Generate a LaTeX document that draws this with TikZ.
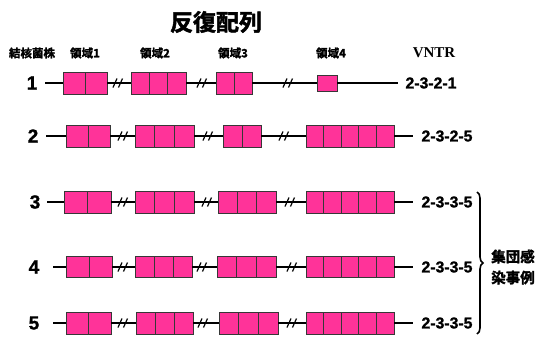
\documentclass[tikz,border=0pt]{standalone}
\usepackage{fontspec}
\setmainfont{Liberation Sans}[BoldFeatures={FakeBold=1.2}]
\newfontfamily\jp{Noto Sans CJK JP}[BoldFont={Noto Sans CJK JP Bold}, BoldFeatures={FakeBold=2}]
\newfontfamily\serifb{Liberation Serif}
\usetikzlibrary{decorations.pathreplacing}
\definecolor{boxpink}{RGB}{255,51,153}
\definecolor{boxedge}{RGB}{55,55,55}
\tikzset{
  cell/.style={draw=boxedge, fill=boxpink, line width=1pt, inner sep=0pt, outer sep=0pt},
  backbone/.style={line width=2pt, black},
  brk/.style={line width=1.2pt, black},
  rownum/.style={font=\fontsize{19}{19}\selectfont\bfseries, anchor=center},
  vntr/.style={font=\fontsize{15.8}{15.8}\selectfont\bfseries, anchor=center},
  head/.style={font=\jp\bfseries\fontsize{11.5}{11.5}\selectfont, anchor=center},
}
% name, x1, x2, ycenter, height, ncells
\newcommand\segm[6]{%
  \pgfmathsetmacro\cw{(#3-#2)/#6}%
  \foreach \i in {1,...,#6}{%
    \node[cell, minimum width=\cw pt, minimum height=#5pt] (#1-\i) at ({#2+(\i-0.5)*\cw}, #4) {};
  }%
}
\newcommand\brkmark[2]{%
  \draw[brk] (#1-5,#2+4.5) -- (#1-1,#2-4.5);
  \draw[brk] (#1+0.5,#2+4.5) -- (#1+4.5,#2-4.5);
}
\begin{document}
\begin{tikzpicture}[x=1pt,y=-1pt]
\useasboundingbox (0,0) rectangle (541,343);
% title and headers
\node[font=\jp\bfseries\fontsize{23}{23}\selectfont] (title) at (216,22) {反復配列};
\node[head] (hs) at (32,53) {結核菌株};
\node[head] (h1) at (85,53) {領域1};
\node[head] (h2) at (155,53) {領域2};
\node[head] (h3) at (233,53) {領域3};
\node[head] (h4) at (331,53) {領域4};
\node[font=\serifb\bfseries\fontsize{15}{15}\selectfont] (hv) at (434,53) {VNTR};

% Row 1
\node[rownum] (n1) at (32,83) {1};
\coordinate (s1) at (45,83);
\coordinate (e1) at (398,83);
\segm{r1a}{63}{107}{83}{22}{2}
\segm{r1b}{131}{186}{83}{22}{3}
\segm{r1c}{216}{252}{83}{22}{2}
\segm{r1d}{317}{337}{83}{16}{1}
\draw[backbone] (s1) -- (r1a-1.west) (r1a-2.east) -- (r1b-1.west)
  (r1b-3.east) -- (r1c-1.west) (r1c-2.east) -- (r1d-1.west) (r1d-1.east) -- (e1);
\brkmark{118}{83}\brkmark{202}{83}\brkmark{288}{83}
\node[vntr] (v1) at (431,83) {2-3-2-1};

% Row 2
\node[rownum] (n2) at (33,136) {2};
\coordinate (s2) at (46,136);
\coordinate (e2) at (413,136);
\segm{r2a}{66}{110}{136}{22}{2}
\segm{r2b}{135}{194}{136}{22}{3}
\segm{r2c}{223}{261}{136}{22}{2}
\segm{r2d}{306}{394}{136}{22}{5}
\draw[backbone] (s2) -- (r2a-1.west) (r2a-2.east) -- (r2b-1.west)
  (r2b-3.east) -- (r2c-1.west) (r2c-2.east) -- (r2d-1.west) (r2d-5.east) -- (e2);
\brkmark{123}{136}\brkmark{208}{136}\brkmark{284}{136}
\node[vntr] (v2) at (447,136) {2-3-2-5};

% Row 3
\node[rownum] (n3) at (35,202) {3};
\coordinate (s3) at (47,202);
\coordinate (e3) at (413,202);
\segm{r3a}{64}{111}{202}{22}{2}
\segm{r3b}{135}{194}{202}{22}{3}
\segm{r3c}{218}{276}{202}{22}{3}
\segm{r3d}{306}{394}{202}{22}{5}
\draw[backbone] (s3) -- (r3a-1.west) (r3a-2.east) -- (r3b-1.west)
  (r3b-3.east) -- (r3c-1.west) (r3c-3.east) -- (r3d-1.west) (r3d-5.east) -- (e3);
\brkmark{123}{202}\brkmark{207}{202}\brkmark{290}{202}
\node[vntr] (v3) at (447,202) {2-3-3-5};

% Row 4
\node[rownum] (n4) at (34,267) {4};
\coordinate (s4) at (53,267);
\coordinate (e4) at (413,267);
\segm{r4a}{66}{112}{267}{21}{2}
\segm{r4b}{135}{192}{267}{21}{3}
\segm{r4c}{217}{276}{267}{21}{3}
\segm{r4d}{306}{394}{267}{21}{5}
\draw[backbone] (s4) -- (r4a-1.west) (r4a-2.east) -- (r4b-1.west)
  (r4b-3.east) -- (r4c-1.west) (r4c-3.east) -- (r4d-1.west) (r4d-5.east) -- (e4);
\brkmark{123}{267}\brkmark{202}{267}\brkmark{292}{267}
\node[vntr] (v4) at (447,267) {2-3-3-5};

% Row 5
\node[rownum] (n5) at (34,323) {5};
\coordinate (s5) at (53,323);
\coordinate (e5) at (413,323);
\segm{r5a}{66}{111}{323}{22}{2}
\segm{r5b}{136}{193}{323}{22}{3}
\segm{r5c}{219}{278}{323}{22}{3}
\segm{r5d}{306}{394}{323}{22}{5}
\draw[backbone] (s5) -- (r5a-1.west) (r5a-2.east) -- (r5b-1.west)
  (r5b-3.east) -- (r5c-1.west) (r5c-3.east) -- (r5d-1.west) (r5d-5.east) -- (e5);
\brkmark{123}{323}\brkmark{203}{323}\brkmark{292}{323}
\node[vntr] (v5) at (447,323) {2-3-3-5};

% brace
\coordinate (bt) at (477,192);
\coordinate (bb) at (477,334);
\draw[line width=1.6pt, decorate, decoration={brace, amplitude=6pt}] (bt) -- (bb);
\node[font=\jp\bfseries\fontsize{14.5}{21}\selectfont, align=center] (grp) at (513,267) {集団感\\染事例};
\end{tikzpicture}
\end{document}
